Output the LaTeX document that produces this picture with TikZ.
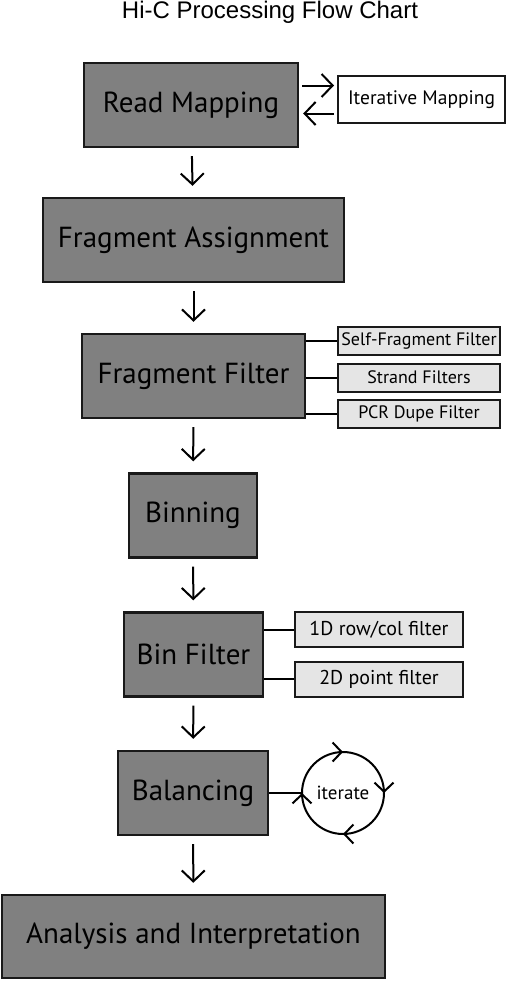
\documentclass[tikz,border=0pt]{standalone}
\usepackage{fontspec}
\setmainfont{PT Sans}
\newfontfamily\titlefont{Liberation Sans}
\usepackage{tikz}
\usetikzlibrary{arrows.meta,decorations.markings,calc}
\tikzset{
  stage/.style={draw=black!90,line width=2.4pt,fill=gray,minimum height=84pt,
    text=black,font=\fontsize{29}{33}\selectfont},
  side/.style={draw=black!90,line width=2pt,fill=gray!20,text=black,
    font=\fontsize{18}{22}\selectfont},
  link/.style={line width=2pt},
  every node/.style={inner sep=0pt}
}
\tikzstyle{arrow} = [line width=2pt,-{Straight Barb[length=11pt,width=23pt]}]

\begin{document}
\begin{tikzpicture}[x=1pt,y=1pt]
  \useasboundingbox (0,0) rectangle (508,-985);
  \node[font=\titlefont\fontsize{24}{28}\selectfont,anchor=base] (title) at (270,-18) {Hi-C Processing Flow Chart};

  \node[stage,minimum width=214pt] (read) at (191,-105) {Read Mapping};
  \node[stage,minimum width=301pt] (assign) at (193.5,-240) {Fragment Assignment};
  \node[stage,minimum width=223pt] (ffilter) at (193.5,-376) {Fragment Filter};
  \node[stage,minimum width=128pt] (binning) at (193,-515.5) {Binning};
  \node[stage,minimum width=139pt] (bfilter) at (193.5,-654.5) {Bin Filter};
  \node[stage,minimum width=150pt] (balance) at (193,-793) {Balancing};
  \node[stage,minimum width=383pt,minimum height=83pt] (analysis) at (193.5,-936.5) {Analysis and Interpretation};

  \node[side,fill=white,minimum width=167pt,minimum height=47pt,font=\fontsize{19.5}{23}\selectfont] (iter) at (421.5,-99.5) {Iterative Mapping};
  \node[side,minimum width=162pt,minimum height=28pt] (selff) at (419,-341) {Self-Fragment Filter};
  \node[side,minimum width=162pt,minimum height=28pt] (strand) at (419,-377.5) {Strand Filters};
  \node[side,minimum width=162pt,minimum height=28pt] (pcr) at (419,-413.5) {PCR Dupe Filter};
  \node[side,minimum width=168pt,minimum height=35pt,font=\fontsize{20}{24}\selectfont] (rowcol) at (379,-629.5) {1D row/col filter};
  \node[side,minimum width=168pt,minimum height=35pt,font=\fontsize{20}{24}\selectfont] (point) at (379,-679) {2D point filter};
  \node[circle,minimum size=82pt,font=\fontsize{19}{23}\selectfont] (cyc) at (343,-793) {iterate};

  \foreach \a/\b in {read/assign,assign/ffilter,ffilter/binning,binning/bfilter,bfilter/balance,balance/analysis}
    \draw[arrow,shorten <=8pt,shorten >=11pt] (\a) -- (\b);

  \coordinate (fwd) at ([yshift=14pt]iter.west);
  \coordinate (back) at ([yshift=-14pt]iter.west);
  \draw[arrow,shorten <=3pt,shorten >=3pt] (read.east |- fwd) -- (fwd);
  \draw[arrow,shorten <=3pt,shorten >=4pt] (back) -- (read.east |- back);

  \foreach \s in {selff,strand,pcr}
    \draw[link] (ffilter.east |- \s) -- (\s.west);
  \foreach \s in {rowcol,point}
    \draw[link] (bfilter.east |- \s) -- (\s.west);

  \draw[link] (balance.east) -- (cyc.west);
  \draw[link,decoration={markings,
      mark=at position 0.125 with {\arrow{Straight Barb[length=9pt,width=19pt]}},
      mark=at position 0.375 with {\arrow{Straight Barb[length=9pt,width=19pt]}},
      mark=at position 0.625 with {\arrow{Straight Barb[length=9pt,width=19pt]}},
      mark=at position 0.875 with {\arrow{Straight Barb[length=9pt,width=19pt]}}},
    postaction=decorate]
    ($(cyc.center)+(45:41)$) arc[start angle=45,end angle=-315,radius=41pt];
\end{tikzpicture}
\end{document}
